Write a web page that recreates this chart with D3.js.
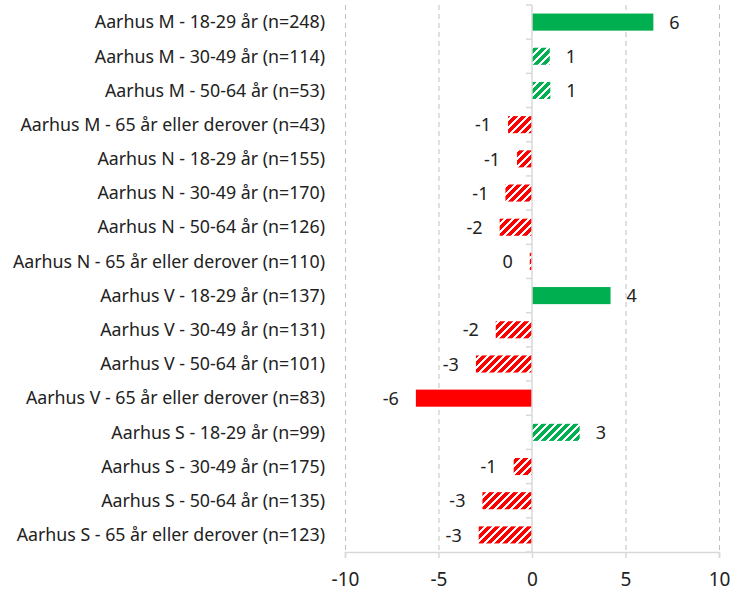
<!DOCTYPE html>
<html>
<head>
<meta charset="utf-8">
<script src="https://cdn.jsdelivr.net/npm/d3@7"></script>
<style>
html,body{margin:0;padding:0;background:#fff;}
svg{display:block;}
text{font-family:"Noto Sans","Open Sans",sans-serif;fill:#222;}
</style>
</head>
<body>
<svg id="chart" width="732" height="594"></svg>
<script>
const categories = [
  "Aarhus M - 18-29 år (n=248)",
  "Aarhus M - 30-49 år (n=114)",
  "Aarhus M - 50-64 år (n=53)",
  "Aarhus M - 65 år eller derover (n=43)",
  "Aarhus N - 18-29 år (n=155)",
  "Aarhus N - 30-49 år (n=170)",
  "Aarhus N - 50-64 år (n=126)",
  "Aarhus N - 65 år eller derover (n=110)",
  "Aarhus V - 18-29 år (n=137)",
  "Aarhus V - 30-49 år (n=131)",
  "Aarhus V - 50-64 år (n=101)",
  "Aarhus V - 65 år eller derover (n=83)",
  "Aarhus S - 18-29 år (n=99)",
  "Aarhus S - 30-49 år (n=175)",
  "Aarhus S - 50-64 år (n=135)",
  "Aarhus S - 65 år eller derover (n=123)"
];
const values = [6.49, 0.95, 0.98, -1.28, -0.8, -1.42, -1.73, -0.12, 4.2, -1.94, -3.0, -6.21, 2.55, -0.98, -2.65, -2.85];
// true = significant (solid fill), false = hatched
const significant = [true, false, false, false, false, false, false, false, true, false, false, true, false, false, false, false];
const xTicks = [-10, -5, 0, 5, 10];

const fmt = v => String(Math.round(v)).replace("\u2212", "-");

const svg = d3.select("#chart");
const margin = {left: 345, right: 13, top: 5, bottom: 42};
const W = 732, H = 594;
const x = d3.scaleLinear().domain([-10, 10]).range([margin.left, W - margin.right]);
const y = d3.scaleBand().domain(categories).range([margin.top, H - margin.bottom]).paddingInner(0.5).paddingOuter(0.25);
const yOuter = d3.scaleBand().domain(categories).range([margin.top, H - margin.bottom]);

const green = "#00b050", red = "#ff0000";
const defs = svg.append("defs");
[["hatchGreen", green], ["hatchRed", red]].forEach(([id, c]) => {
  const p = defs.append("pattern").attr("id", id).attr("patternUnits", "userSpaceOnUse")
    .attr("width", 8).attr("height", 8);
  p.append("rect").attr("width", 8).attr("height", 8).attr("fill", "#fff");
  p.append("path").attr("d", "M-2,10 L10,-2 M-6,6 L6,-6 M2,14 L14,2")
    .attr("stroke", c).attr("stroke-width", 3.2).attr("shape-rendering", "crispEdges");
});

// gridlines
const plotTop = margin.top, plotBottom = H - margin.bottom;
svg.append("g").selectAll("line").data(xTicks.filter(d => d !== 0)).join("line")
  .attr("x1", d => x(d) + 0.5).attr("x2", d => x(d) + 0.5)
  .attr("y1", plotTop).attr("y2", plotBottom)
  .attr("stroke", "#bfbfbf").attr("stroke-width", 1).attr("stroke-dasharray", "5,4");

// bars
svg.append("g").selectAll("rect").data(categories).join("rect")
  .attr("x", (d, i) => x(Math.min(0, values[i])))
  .attr("y", d => y(d))
  .attr("width", (d, i) => Math.abs(x(values[i]) - x(0)))
  .attr("height", y.bandwidth())
  .attr("fill", (d, i) => {
    const pos = values[i] >= 0;
    if (significant[i]) return pos ? green : red;
    return pos ? "url(#hatchGreen)" : "url(#hatchRed)";
  });

// x axis
const xAxis = d3.axisBottom(x).tickValues(xTicks).tickSize(6).tickPadding(15).tickFormat(fmt);
const gx = svg.append("g").attr("transform", `translate(0,${plotBottom})`).call(xAxis);
gx.select(".domain").attr("stroke", "#d9d9d9").attr("stroke-width", 1.5);
gx.selectAll(".tick line").attr("stroke", "#d9d9d9").attr("stroke-width", 1.5);
gx.selectAll(".tick text").attr("font-size", 19).style("font-family", '"Noto Sans","Open Sans",sans-serif').attr("fill", "#222");

// zero axis (category axis)
const zx = x(0);
svg.append("line").attr("x1", zx).attr("x2", zx).attr("y1", plotTop).attr("y2", plotBottom)
  .attr("stroke", "#d9d9d9").attr("stroke-width", 1.5);
const bounds = categories.map(c => yOuter(c)).concat([plotBottom]);
svg.append("g").selectAll("line").data(bounds).join("line")
  .attr("x1", zx - 6).attr("x2", zx).attr("y1", d => d).attr("y2", d => d)
  .attr("stroke", "#d9d9d9").attr("stroke-width", 1.5);

// category labels
svg.append("g").selectAll("text").data(categories).join("text")
  .attr("x", 325).attr("y", d => y(d) + y.bandwidth() / 2)
  .attr("dy", "0.35em").attr("text-anchor", "end").attr("font-size", 17.8)
  .text(d => d);

// value labels
svg.append("g").selectAll("text").data(categories).join("text")
  .attr("x", (d, i) => values[i] >= 0 ? x(values[i]) + 16 : x(values[i]) - 17)
  .attr("y", d => y(d) + y.bandwidth() / 2)
  .attr("dy", "0.37em")
  .attr("text-anchor", (d, i) => values[i] >= 0 ? "start" : "end")
  .attr("font-size", 18)
  .text((d, i) => fmt(values[i]));
</script>
</body>
</html>
